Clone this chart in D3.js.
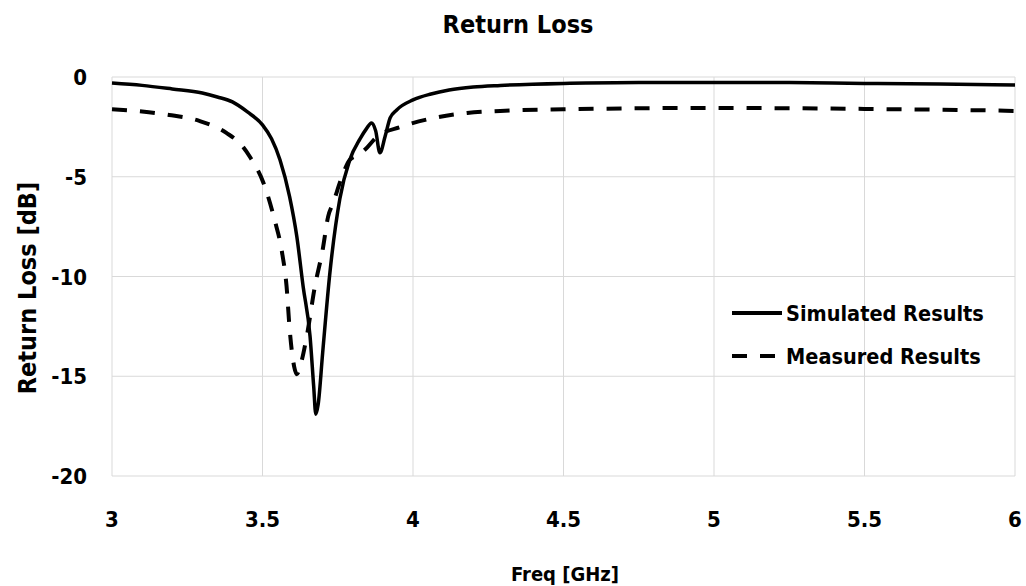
<!DOCTYPE html>
<html>
<head>
<meta charset="utf-8">
<script src="https://cdn.jsdelivr.net/npm/d3@7"></script>
<style>
  body { margin: 0; background: #fff; }
  text { font-family: "Liberation Sans Narrow", "DejaVu Sans Condensed", sans-serif; font-weight: bold; fill: #000; }
</style>
</head>
<body>
<script>
var w = 1026, h = 586;
var margin = { left: 112, right: 11, top: 77, bottom: 110 };

// frequency [GHz] and return loss [dB]
var simFreq = [3.0, 3.1, 3.2, 3.3, 3.35, 3.4, 3.45, 3.5, 3.53, 3.558, 3.59, 3.614, 3.635, 3.658, 3.67, 3.677, 3.685, 3.7, 3.724, 3.757, 3.79, 3.824, 3.845, 3.862, 3.876, 3.89, 3.907, 3.924, 3.946, 4.0, 4.06, 4.12, 4.2, 4.29, 4.5, 4.75, 5.0, 5.25, 5.5, 5.75, 6.0];
var simLoss = [-0.3, -0.42, -0.6, -0.8, -1.0, -1.25, -1.75, -2.4, -3.1, -4.15, -6.0, -8.0, -10.5, -13.0, -15.5, -16.9, -16.4, -13.8, -9.8, -6.1, -4.15, -3.1, -2.6, -2.3, -2.7, -3.8, -3.0, -2.05, -1.65, -1.15, -0.85, -0.65, -0.5, -0.42, -0.32, -0.28, -0.27, -0.28, -0.32, -0.35, -0.4];

var measFreq = [3.0, 3.1, 3.19, 3.29, 3.38, 3.435, 3.458, 3.503, 3.54, 3.565, 3.58, 3.59, 3.605, 3.614, 3.625, 3.647, 3.674, 3.7, 3.718, 3.735, 3.764, 3.79, 3.82, 3.84, 3.88, 3.96, 4.07, 4.18, 4.29, 4.5, 5.0, 5.5, 5.93, 6.0];
var measLoss = [-1.62, -1.73, -1.9, -2.2, -2.8, -3.5, -4.0, -5.3, -7.15, -8.8, -10.5, -12.6, -14.5, -14.9, -14.5, -13.0, -10.5, -8.65, -7.0, -6.3, -5.0, -4.15, -3.9, -3.65, -3.0, -2.5, -2.05, -1.8, -1.7, -1.62, -1.55, -1.6, -1.68, -1.7];

var xTicks = [3, 3.5, 4, 4.5, 5, 5.5, 6];
var yTicks = [0, -5, -10, -15, -20];

var svg = d3.select("body").append("svg").attr("width", w).attr("height", h);

var x = d3.scaleLinear().domain([3, 6]).range([margin.left, w - margin.right]);
var y = d3.scaleLinear().domain([-20, 0]).range([h - margin.bottom, margin.top]);

// grid
svg.append("g").selectAll("line").data(xTicks).enter().append("line")
    .attr("x1", function (d) { return x(d); }).attr("x2", function (d) { return x(d); })
    .attr("y1", y(0)).attr("y2", y(-20))
    .attr("stroke", "#d9d9d9").attr("stroke-width", 1);
svg.append("g").selectAll("line").data(yTicks).enter().append("line")
    .attr("x1", x(3)).attr("x2", x(6))
    .attr("y1", function (d) { return y(d); }).attr("y2", function (d) { return y(d); })
    .attr("stroke", "#d9d9d9").attr("stroke-width", 1);

// tick labels
svg.append("g").selectAll("text").data(xTicks).enter().append("text")
    .attr("x", function (d) { return x(d); })
    .attr("y", 527)
    .attr("text-anchor", "middle")
    .style("font-size", "22px")
    .text(function (d) { return d; });
svg.append("g").selectAll("text").data(yTicks).enter().append("text")
    .attr("x", 87)
    .attr("y", function (d) { return y(d) + 8; })
    .attr("text-anchor", "end")
    .style("font-size", "22px")
    .text(function (d) { return d === 0 ? "0" : "-" + Math.abs(d); });

// titles
svg.append("text").attr("x", 518).attr("y", 33).attr("text-anchor", "middle")
    .style("font-size", "25px").text("Return Loss");
svg.append("text").attr("x", 565).attr("y", 581).attr("text-anchor", "middle")
    .style("font-size", "20px").text("Freq [GHz]");
svg.append("text").attr("transform", "translate(36,288) rotate(-90)").attr("text-anchor", "middle")
    .style("font-size", "25px").text("Return Loss [dB]");

var line = d3.line()
    .x(function (d) { return x(d[0]); })
    .y(function (d) { return y(d[1]); })
    .curve(d3.curveMonotoneX);

svg.append("path").datum(d3.zip(measFreq, measLoss))
    .attr("d", line).attr("fill", "none").attr("stroke", "#000")
    .attr("stroke-width", 4).attr("stroke-dasharray", "15,13");

svg.append("path").datum(d3.zip(simFreq, simLoss))
    .attr("d", line).attr("fill", "none").attr("stroke", "#000")
    .attr("stroke-width", 3.5);

// legend
var legend = svg.append("g");
legend.append("line").attr("x1", 732).attr("x2", 782).attr("y1", 313).attr("y2", 313)
    .attr("stroke", "#000").attr("stroke-width", 4);
legend.append("line").attr("x1", 732).attr("x2", 775).attr("y1", 356).attr("y2", 356)
    .attr("stroke", "#000").attr("stroke-width", 4).attr("stroke-dasharray", "15,13");
legend.append("text").attr("x", 786).attr("y", 321).style("font-size", "21.5px").text("Simulated Results");
legend.append("text").attr("x", 786).attr("y", 364).style("font-size", "21.5px").text("Measured Results");
</script>
</body>
</html>
